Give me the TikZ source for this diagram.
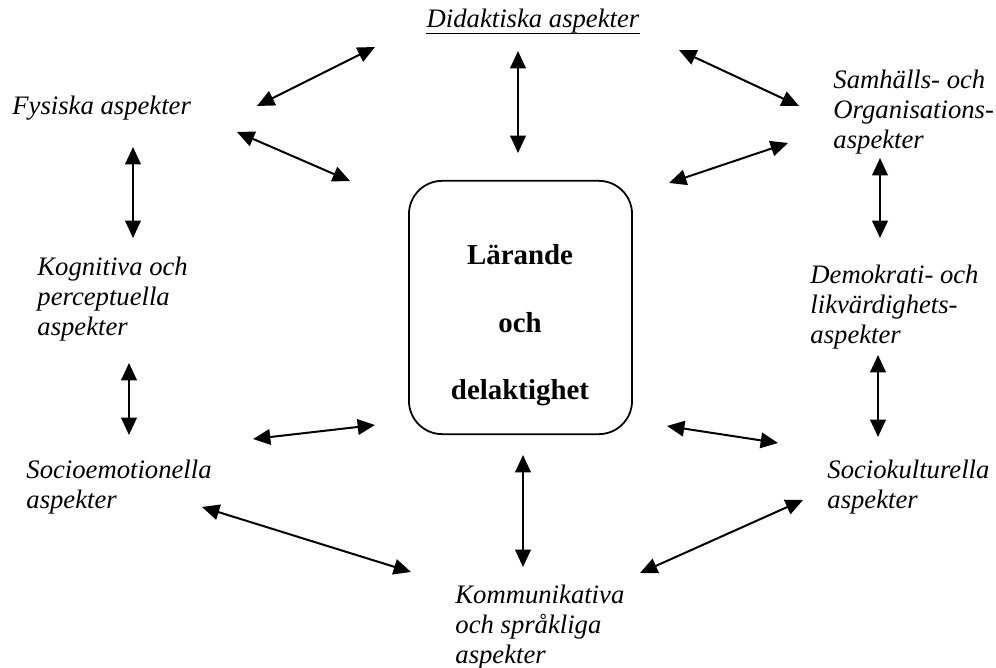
\documentclass[tikz,border=0pt]{standalone}
\usepackage{fontspec}
\setmainfont{Liberation Serif}
\usepackage{tikz}
\usetikzlibrary{arrows.meta}
\tikzset{
  aspect/.style={font=\itshape\fontsize{12}{13.4}\selectfont, align=left, anchor=north west, inner sep=0pt},
  corebox/.style={draw, line width=0.8pt, rounded corners=15pt, minimum width=100.4pt, minimum height=114pt, inner sep=0pt},
  coretext/.style={font=\bfseries\fontsize{13}{15}\selectfont, anchor=base, inner sep=0pt},
  biarrow/.style={{Triangle[length=7.8pt,width=7pt]}-{Triangle[length=7.8pt,width=7pt]}, line width=0.9pt}
}
\begin{document}
\begin{tikzpicture}[x=0.45pt, y=-0.45pt]
\useasboundingbox (0,0) rectangle (996,668);
% centre
\node[corebox] (core) at (520.5,307.5) {};
\node[coretext] (lar) at (520,265) {Lärande};
\node[coretext] (och) at (520,333) {och};
\node[coretext] (del) at (520,400) {delaktighet};
% aspects round the centre
\node[aspect, anchor=base] (did) at (533,28) {Didaktiska aspekter};
\draw[line width=0.5pt] ([yshift=-2.3pt]did.base west) -- ([yshift=-2.3pt]did.base east);
\node[aspect, anchor=base west] (fys) at (12,115) {Fysiska aspekter};
\node[aspect] (sam) at (833,70) {Samhälls- och\\Organisations-\\aspekter};
\node[aspect] (kog) at (37,257) {Kognitiva och\\perceptuella\\aspekter};
\node[aspect] (dem) at (810,265) {Demokrati- och\\likvärdighets-\\aspekter};
\node[aspect] (soe) at (26,460) {Socioemotionella\\aspekter};
\node[aspect] (sok) at (827,460) {Sociokulturella\\aspekter};
\node[aspect] (kom) at (455,585) {Kommunikativa\\och språkliga\\aspekter};
% arrow ends
\coordinate (df1) at (375,47);  \coordinate (df2) at (257,106);
\coordinate (fc1) at (237,132); \coordinate (fc2) at (350,181);
\coordinate (dc1) at (518,51);  \coordinate (dc2) at (518,153);
\coordinate (ds1) at (679,50);  \coordinate (ds2) at (799,106);
\coordinate (sc1) at (669,183); \coordinate (sc2) at (788,143);
\coordinate (fk1) at (133,147); \coordinate (fk2) at (133,238);
\coordinate (sd1) at (880,158); \coordinate (sd2) at (880,238);
\coordinate (ks1) at (129,363); \coordinate (ks2) at (129,435);
\coordinate (dk1) at (878,355); \coordinate (dk2) at (878,437);
\coordinate (ec1) at (253,439); \coordinate (ec2) at (375,425);
\coordinate (kc1) at (667,426); \coordinate (kc2) at (778,443);
\coordinate (cm1) at (523,455); \coordinate (cm2) at (523,567);
\coordinate (em1) at (202,507); \coordinate (em2) at (411,572);
\coordinate (mk1) at (640,573); \coordinate (mk2) at (803,500);
\draw[biarrow] (df1) -- (df2);
\draw[biarrow] (fc1) -- (fc2);
\draw[biarrow] (dc1) -- (dc2);
\draw[biarrow] (ds1) -- (ds2);
\draw[biarrow] (sc1) -- (sc2);
\draw[biarrow] (fk1) -- (fk2);
\draw[biarrow] (sd1) -- (sd2);
\draw[biarrow] (ks1) -- (ks2);
\draw[biarrow] (dk1) -- (dk2);
\draw[biarrow] (ec1) -- (ec2);
\draw[biarrow] (kc1) -- (kc2);
\draw[biarrow] (cm1) -- (cm2);
\draw[biarrow] (em1) -- (em2);
\draw[biarrow] (mk1) -- (mk2);
\end{tikzpicture}
\end{document}
